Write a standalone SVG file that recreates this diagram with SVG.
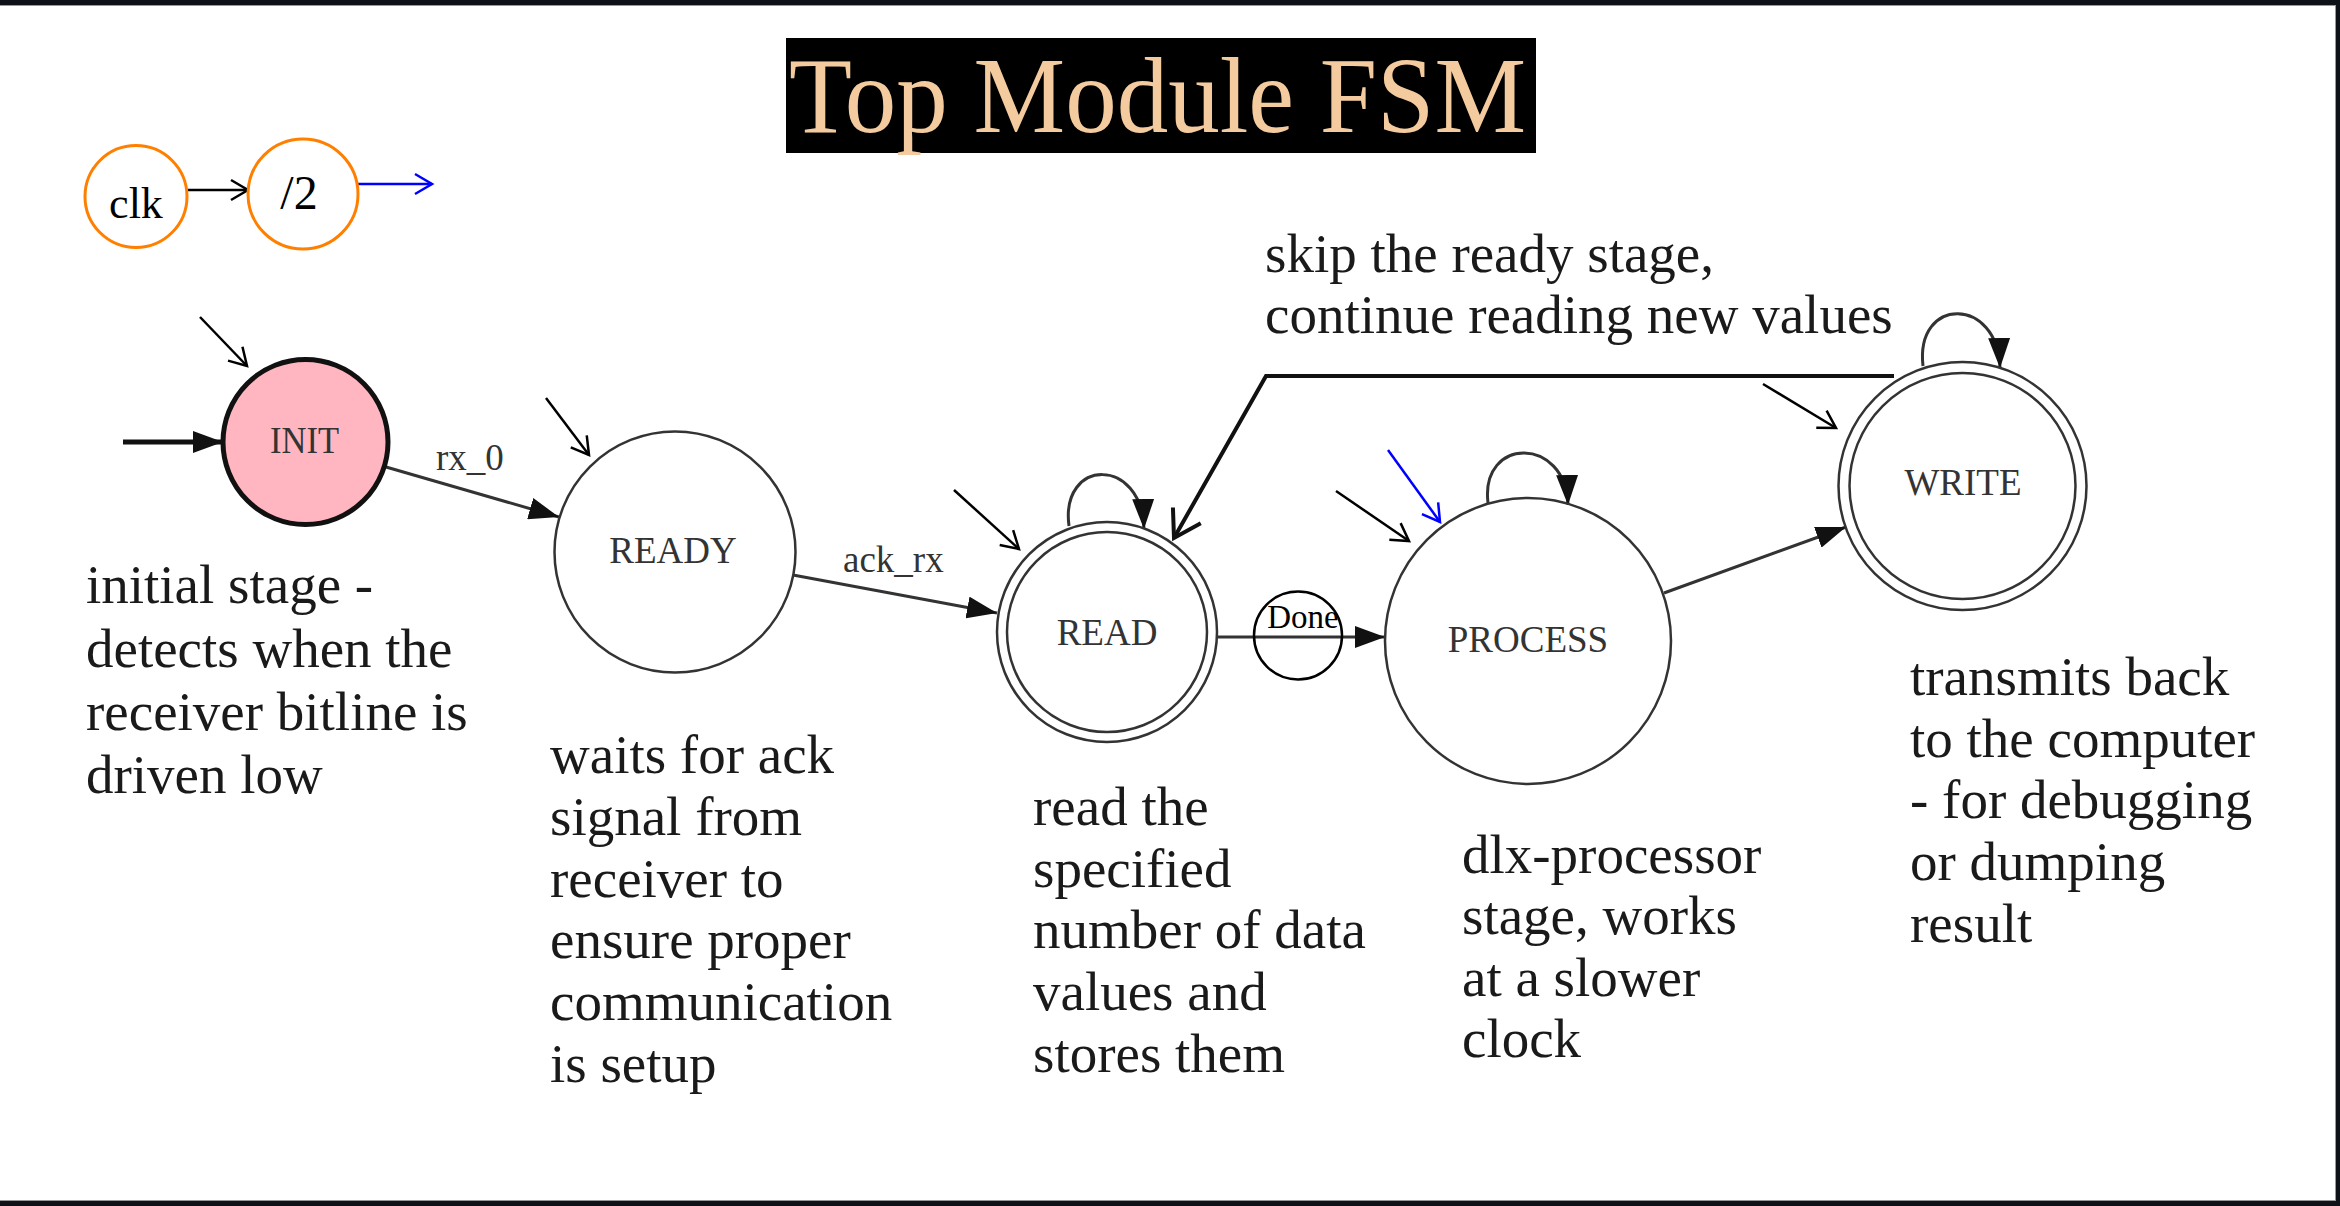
<svg xmlns="http://www.w3.org/2000/svg" width="2340" height="1206" viewBox="0 0 2340 1206">
<style>
.desc{font-family:"Liberation Serif","DejaVu Serif",serif;font-size:55px;fill:#1a1a1a}
.gv{font-family:"Liberation Serif","DejaVu Serif",serif;font-size:37px;fill:#333}
.st{fill:none;stroke:#333;stroke-width:2.5}
.edge{fill:none;stroke:#333;stroke-width:3}
.ann{fill:none;stroke:#000;stroke-width:2.5}
.blue{fill:none;stroke:#0000ff;stroke-width:2.5}
.orange{fill:#fff;stroke:#ff8000;stroke-width:3}
</style>
<defs>
<marker id="fill" markerUnits="userSpaceOnUse" markerWidth="30" markerHeight="22" refX="30" refY="11" orient="auto">
<path d="M0,0 L30,11 L0,22 z" fill="#111"/>
</marker>
<marker id="vee" markerUnits="userSpaceOnUse" markerWidth="22" markerHeight="24" refX="19" refY="12" orient="auto">
<path d="M2,2 L19,12 L2,22" fill="none" stroke="#000" stroke-width="2.5"/>
</marker>
<marker id="veeBlue" markerUnits="userSpaceOnUse" markerWidth="22" markerHeight="24" refX="19" refY="12" orient="auto">
<path d="M2,2 L19,12 L2,22" fill="none" stroke="#0000ff" stroke-width="2.5"/>
</marker>
<marker id="veeBig" markerUnits="userSpaceOnUse" markerWidth="32" markerHeight="36" refX="28" refY="18" orient="auto">
<path d="M2,2 L28,18 L2,34" fill="none" stroke="#111" stroke-width="4"/>
</marker>
</defs>
<rect x="0" y="0" width="2340" height="1206" fill="#fff"/>
<g id="frame">
<rect x="0" y="0" width="2340" height="5" fill="#0e1118"/>
<rect x="2336" y="0" width="4" height="1206" fill="#0e1118"/>
<rect x="0" y="1201" width="2340" height="5" fill="#0e1118"/>
<line x1="0" y1="5.5" x2="2336" y2="5.5" stroke="#999" stroke-width="1"/>
<line x1="0" y1="1200.5" x2="2336" y2="1200.5" stroke="#999" stroke-width="1"/>
<line x1="2335.5" y1="5" x2="2335.5" y2="1201" stroke="#999" stroke-width="1"/>
</g>
<g id="title">
<rect x="786" y="38" width="750" height="115" fill="#000"/>
<text x="789" y="132" font-family="Liberation Serif, serif" font-size="109" fill="#f4cb9e" textLength="737" lengthAdjust="spacingAndGlyphs">Top Module FSM</text>
</g>
<g id="connectors">
<line x1="187" y1="190" x2="248" y2="190" class="ann" marker-end="url(#vee)"/>
<line x1="358" y1="184" x2="432" y2="184" class="blue" marker-end="url(#veeBlue)"/>
<line x1="123" y1="442" x2="223" y2="442" stroke="#111" stroke-width="5" marker-end="url(#fill)"/>
<line x1="386" y1="467" x2="559" y2="517" class="edge" marker-end="url(#fill)"/>
<line x1="793" y1="575" x2="997" y2="613" class="edge" marker-end="url(#fill)"/>
<line x1="1217" y1="637" x2="1385" y2="637" class="edge" marker-end="url(#fill)"/>
<line x1="1664" y1="593" x2="1846" y2="527" class="edge" marker-end="url(#fill)"/>
<path d="M1069,526 C1060,458 1142,456 1144,529" class="edge" marker-end="url(#fill)"/>
<path d="M1488,503 C1480,436 1566,436 1568,505" class="edge" marker-end="url(#fill)"/>
<path d="M1923,366 C1915,296 1998,296 2000,368" class="edge" marker-end="url(#fill)"/>
<polyline points="1894,376 1266,376 1174,538" fill="none" stroke="#111" stroke-width="4" marker-end="url(#veeBig)"/>
<line x1="200" y1="317" x2="247" y2="366" class="ann" marker-end="url(#vee)"/>
<line x1="546" y1="398" x2="589" y2="455" class="ann" marker-end="url(#vee)"/>
<line x1="954" y1="490" x2="1019" y2="549" class="ann" marker-end="url(#vee)"/>
<line x1="1336" y1="491" x2="1409" y2="541" class="ann" marker-end="url(#vee)"/>
<line x1="1763" y1="384" x2="1836" y2="428" class="ann" marker-end="url(#vee)"/>
<line x1="1388" y1="450" x2="1440" y2="522" class="blue" marker-end="url(#veeBlue)"/>
</g>
<g id="clk">
<circle cx="136" cy="196.5" r="51" class="orange"/>
<text x="136" y="218" text-anchor="middle" font-family="Liberation Serif, serif" font-size="44" fill="#000">clk</text>
</g>
<g id="div2">
<circle cx="303" cy="194" r="55" class="orange"/>
<text x="299" y="209" text-anchor="middle" font-family="Liberation Serif, serif" font-size="48" fill="#000">/2</text>
</g>
<g id="init">
<circle cx="305.5" cy="442" r="82.5" fill="#ffb6c1" stroke="#111" stroke-width="5"/>
<text x="304.5" y="453" text-anchor="middle" class="gv" textLength="69" lengthAdjust="spacingAndGlyphs">INIT</text>
</g>
<g id="ready">
<circle cx="675" cy="552" r="120.5" class="st"/>
<text x="673" y="563" text-anchor="middle" class="gv">READY</text>
</g>
<g id="read">
<circle cx="1107" cy="632" r="110" class="st"/>
<circle cx="1107" cy="632" r="100" class="st"/>
<text x="1107" y="645" text-anchor="middle" class="gv">READ</text>
</g>
<g id="done">
<circle cx="1298" cy="635.5" r="44" fill="none" stroke="#000" stroke-width="2.5"/>
<text x="1303" y="628" text-anchor="middle" font-family="Liberation Serif, serif" font-size="33" fill="#000">Done</text>
</g>
<g id="process">
<circle cx="1528" cy="641" r="143" class="st"/>
<text x="1528" y="652" text-anchor="middle" class="gv">PROCESS</text>
</g>
<g id="write">
<circle cx="1962.5" cy="486" r="124" class="st"/>
<circle cx="1962.5" cy="486" r="113" class="st"/>
<text x="1963" y="495" text-anchor="middle" class="gv">WRITE</text>
</g>
<g id="edge-labels">
<text x="436" y="470" class="gv">rx_0</text>
<text x="843" y="572" class="gv">ack_rx</text>
</g>
<g id="skip-label">
<text x="1265" y="272" class="desc">skip the ready stage,</text>
<text x="1265" y="333" class="desc">continue reading new values</text>
</g>
<g id="init-desc">
<text x="86" y="603" class="desc">initial stage -</text>
<text x="86" y="667" class="desc">detects when the</text>
<text x="86" y="730" class="desc">receiver bitline is</text>
<text x="86" y="793" class="desc">driven low</text>
</g>
<g id="ready-desc">
<text x="550" y="773" class="desc">waits for ack</text>
<text x="550" y="835" class="desc">signal from</text>
<text x="550" y="897" class="desc">receiver to</text>
<text x="550" y="958" class="desc">ensure proper</text>
<text x="550" y="1020" class="desc">communication</text>
<text x="550" y="1082" class="desc">is setup</text>
</g>
<g id="read-desc">
<text x="1033" y="825" class="desc">read the</text>
<text x="1033" y="887" class="desc">specified</text>
<text x="1033" y="948" class="desc">number of data</text>
<text x="1033" y="1010" class="desc">values and</text>
<text x="1033" y="1072" class="desc">stores them</text>
</g>
<g id="process-desc">
<text x="1462" y="873" class="desc">dlx-processor</text>
<text x="1462" y="934" class="desc">stage, works</text>
<text x="1462" y="996" class="desc">at a slower</text>
<text x="1462" y="1057" class="desc">clock</text>
</g>
<g id="write-desc">
<text x="1910" y="695" class="desc">transmits back</text>
<text x="1910" y="757" class="desc">to the computer</text>
<text x="1910" y="818" class="desc">- for debugging</text>
<text x="1910" y="880" class="desc">or dumping</text>
<text x="1910" y="942" class="desc">result</text>
</g>
</svg>
